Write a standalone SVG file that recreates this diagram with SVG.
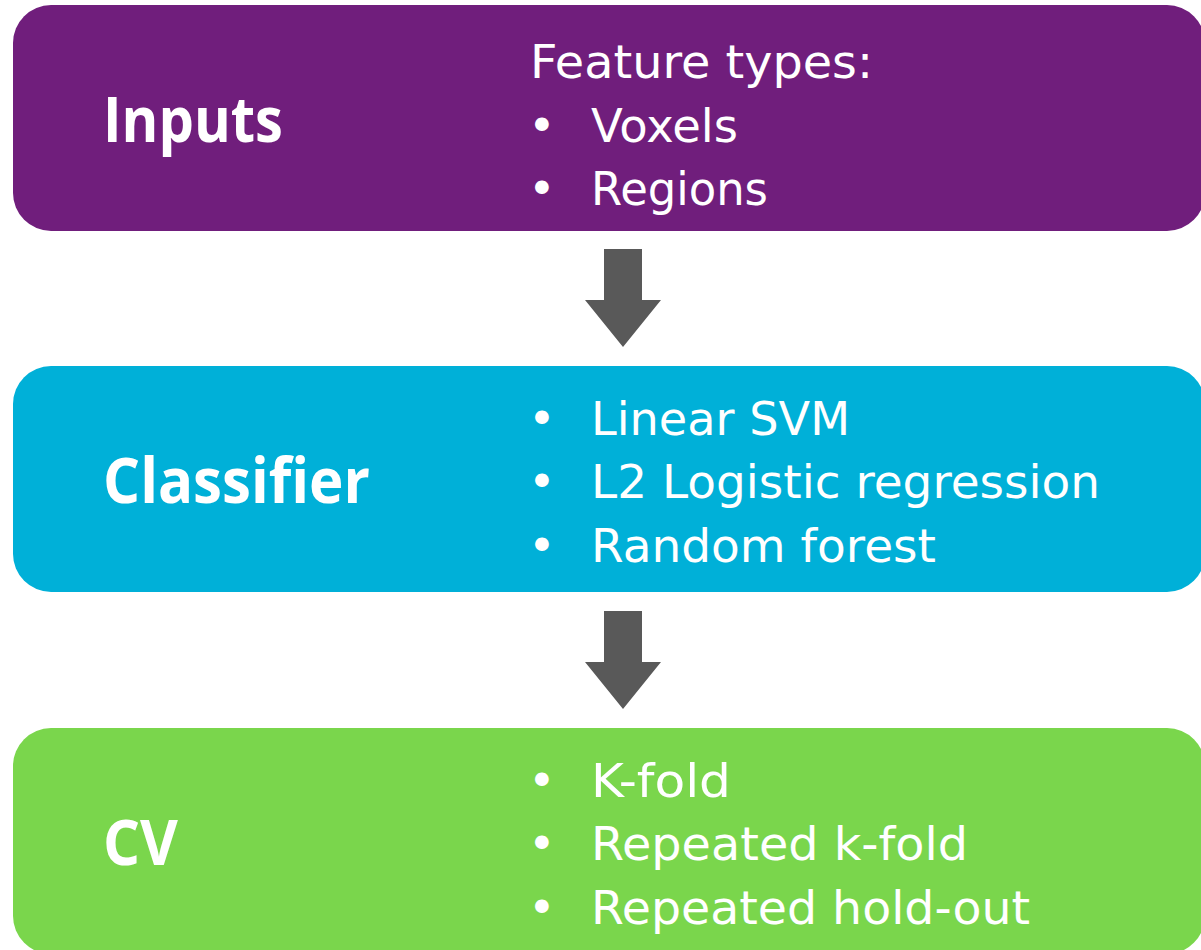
<svg xmlns="http://www.w3.org/2000/svg" width="1201" height="950" viewBox="0 0 1201 950">
<style>
.title{font-family:"Open Sans","DejaVu Sans",sans-serif;font-weight:bold;font-size:62px;fill:#fff}
.item{font-family:"DejaVu Sans","Open Sans",sans-serif;font-size:47px;fill:#fff}
.arrow{fill:#595959}
</style>
<rect x="0" y="0" width="1201" height="950" fill="#fff"/>
<g id="inputs">
<rect x="13" y="5" width="1192" height="226" rx="38" fill="#701E7C"/>
<text class="title" x="103" y="142" textLength="180" lengthAdjust="spacingAndGlyphs">Inputs</text>
<text class="item" x="530" y="78" textLength="343" lengthAdjust="spacingAndGlyphs">Feature types:</text>
<text class="item" x="528" y="142">•</text><text class="item" x="591" y="142" textLength="147" lengthAdjust="spacingAndGlyphs">Voxels</text>
<text class="item" x="528" y="205">•</text><text class="item" x="591" y="205" textLength="177" lengthAdjust="spacingAndGlyphs">Regions</text>
</g>
<g id="classifier">
<rect x="13" y="366" width="1192" height="226" rx="38" fill="#00B0D8"/>
<text class="title" x="103" y="503" textLength="267" lengthAdjust="spacingAndGlyphs">Classifier</text>
<text class="item" x="528" y="435">•</text><text class="item" x="591" y="435" textLength="259" lengthAdjust="spacingAndGlyphs">Linear SVM</text>
<text class="item" x="528" y="498">•</text><text class="item" x="591" y="498" textLength="509" lengthAdjust="spacingAndGlyphs">L2 Logistic regression</text>
<text class="item" x="528" y="562">•</text><text class="item" x="591" y="562" textLength="345" lengthAdjust="spacingAndGlyphs">Random forest</text>
</g>
<g id="cv">
<rect x="13" y="728" width="1192" height="226" rx="38" fill="#7AD64C"/>
<text class="title" x="103" y="865" textLength="75" lengthAdjust="spacingAndGlyphs">CV</text>
<text class="item" x="528" y="797">•</text><text class="item" x="591" y="797" textLength="140" lengthAdjust="spacingAndGlyphs">K-fold</text>
<text class="item" x="528" y="860">•</text><text class="item" x="591" y="860" textLength="377" lengthAdjust="spacingAndGlyphs">Repeated k-fold</text>
<text class="item" x="528" y="924">•</text><text class="item" x="591" y="924" textLength="439" lengthAdjust="spacingAndGlyphs">Repeated hold-out</text>
</g>
<g id="connectors">
<polygon class="arrow" points="604,249 642,249 642,300 661,300 623,347 585,300 604,300"/>
<polygon class="arrow" points="604,611 642,611 642,662 661,662 623,709 585,662 604,662"/>
</g>
</svg>
